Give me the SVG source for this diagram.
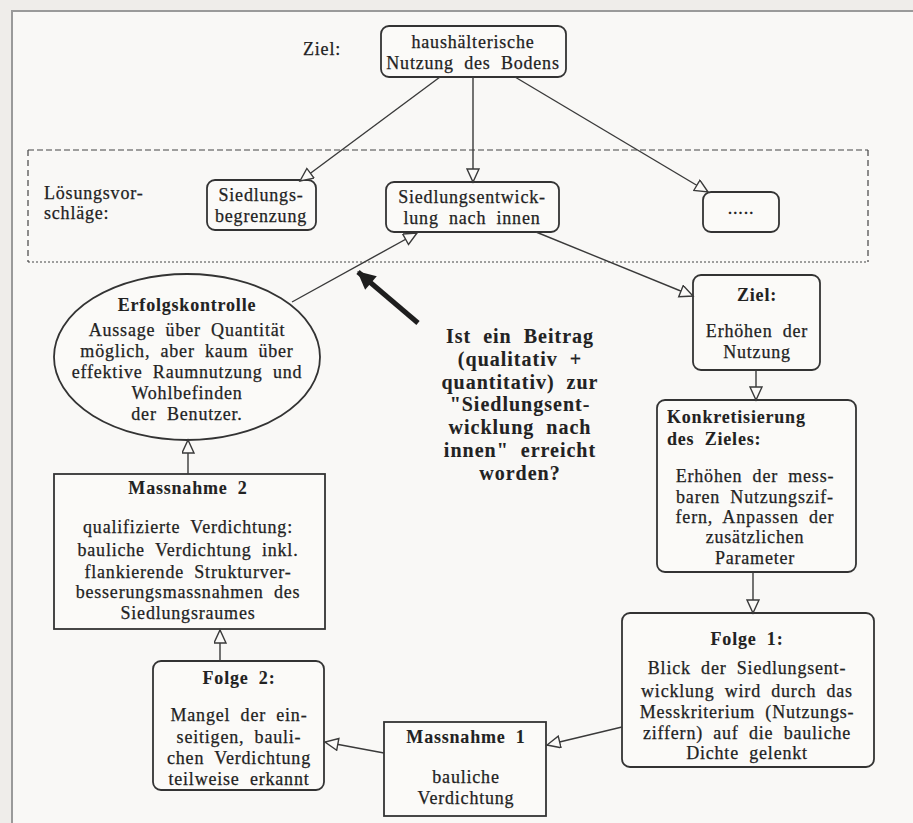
<svg xmlns="http://www.w3.org/2000/svg" width="913" height="823" viewBox="0 0 913 823">
<defs>
<style>
.t{font-family:"Liberation Serif","Times New Roman",serif;font-size:18px;fill:#222;stroke:#222;stroke-width:0.25;letter-spacing:0.8px;word-spacing:5px}
.c{text-anchor:middle}
.b{font-weight:bold;stroke-width:0.1}
.q{font-size:20px;letter-spacing:1px;word-spacing:6px}
.n{fill:#fbfaf8;stroke:#333;stroke-width:1.8}
.e{fill:none;stroke:#3a3a3a;stroke-width:1.4}
</style>
<marker id="h" markerUnits="userSpaceOnUse" markerWidth="16" markerHeight="14" refX="14" refY="6.5" orient="auto" viewBox="0 0 16 14">
<path d="M1,0.5 L14,6.5 L1,12.5 z" fill="#fbfaf8" stroke="#3a3a3a" stroke-width="1.4"/>
</marker>
<marker id="f" markerUnits="userSpaceOnUse" markerWidth="22" markerHeight="20" refX="18" refY="10" orient="auto" viewBox="0 0 22 20">
<path d="M1,1 L19,10 L1,19 z" fill="#1e1e1e"/>
</marker>
</defs>
<rect x="0" y="0" width="913" height="823" fill="#efedea"/>
<rect x="12" y="11" width="901" height="812" fill="#f9f8f6"/>
<path d="M12,823 L12,11 L913,11" fill="none" stroke="#9a9a9a" stroke-width="2"/>

<g id="loesungsbereich">
<line x1="28" y1="150" x2="868" y2="150" stroke="#444" stroke-width="1.2" stroke-dasharray="6,3"/>
<line x1="28" y1="262" x2="868" y2="262" stroke="#444" stroke-width="1.2" stroke-dasharray="2,2"/>
<line x1="28" y1="150" x2="28" y2="262" stroke="#444" stroke-width="1.2" stroke-dasharray="6,4"/>
<line x1="868" y1="150" x2="868" y2="262" stroke="#444" stroke-width="1.2" stroke-dasharray="6,4"/>
<text class="t" x="44" y="199">Lösungsvor-</text>
<text class="t" x="44" y="219">schläge:</text>
</g>

<g id="ziel-label"><text class="t" x="303" y="55">Ziel:</text></g>

<g id="n-boden">
<rect class="n" x="381" y="26" width="185" height="51" rx="8"/>
<text class="t c" x="473" y="48">haushälterische</text>
<text class="t c" x="473" y="69">Nutzung des Bodens</text>
</g>

<g id="n-begrenzung">
<rect class="n" x="207" y="180" width="109" height="50" rx="8"/>
<text class="t c" x="261" y="201">Siedlungs-</text>
<text class="t c" x="261" y="222">begrenzung</text>
</g>

<g id="n-innen">
<rect class="n" x="386" y="182" width="173" height="50" rx="8"/>
<text class="t c" x="472" y="203">Siedlungsentwick-</text>
<text class="t c" x="472" y="224">lung nach innen</text>
</g>

<g id="n-dots">
<rect class="n" x="703" y="192" width="76" height="40" rx="8"/>
<text class="t c" x="741" y="214">.....</text>
</g>

<g id="n-erfolg">
<ellipse class="n" cx="187" cy="357" rx="133" ry="83"/>
<text class="t c b" x="187" y="311">Erfolgskontrolle</text>
<text class="t c" x="187" y="336">Aussage über Quantität</text>
<text class="t c" x="187" y="357">möglich, aber kaum über</text>
<text class="t c" x="187" y="378">effektive Raumnutzung und</text>
<text class="t c" x="187" y="399">Wohlbefinden</text>
<text class="t c" x="187" y="420">der Benutzer.</text>
</g>

<g id="frage">
<text class="t q c b" x="520" y="343">Ist ein Beitrag</text>
<text class="t q c b" x="520" y="366">(qualitativ +</text>
<text class="t q c b" x="520" y="389">quantitativ) zur</text>
<text class="t q c b" x="520" y="411">"Siedlungsent-</text>
<text class="t q c b" x="520" y="434">wicklung nach</text>
<text class="t q c b" x="520" y="457">innen" erreicht</text>
<text class="t q c b" x="520" y="480">worden?</text>
</g>

<g id="n-ziel2">
<rect class="n" x="693" y="275" width="127" height="95" rx="8"/>
<text class="t c b" x="757" y="301">Ziel:</text>
<text class="t c" x="757" y="337">Erhöhen der</text>
<text class="t c" x="757" y="358">Nutzung</text>
</g>

<g id="n-konkret">
<rect class="n" x="657" y="400" width="199" height="172" rx="8"/>
<text class="t b" x="667" y="423">Konkretisierung</text>
<text class="t b" x="667" y="445">des Zieles:</text>
<text class="t c" x="755" y="482">Erhöhen der mess-</text>
<text class="t c" x="755" y="503">baren Nutzungszif-</text>
<text class="t c" x="755" y="523">fern, Anpassen der</text>
<text class="t c" x="755" y="543">zusätzlichen</text>
<text class="t c" x="755" y="564">Parameter</text>
</g>

<g id="n-folge1">
<rect class="n" x="622" y="613" width="252" height="154" rx="8"/>
<text class="t c b" x="747" y="645">Folge 1:</text>
<text class="t c" x="747" y="674">Blick der Siedlungsent-</text>
<text class="t c" x="747" y="697">wicklung wird durch das</text>
<text class="t c" x="747" y="718">Messkriterium (Nutzungs-</text>
<text class="t c" x="747" y="739">ziffern) auf die bauliche</text>
<text class="t c" x="747" y="759">Dichte gelenkt</text>
</g>

<g id="n-massnahme1">
<rect class="n" x="384" y="722" width="162" height="94"/>
<text class="t c b" x="466" y="743">Massnahme 1</text>
<text class="t c" x="466" y="783">bauliche</text>
<text class="t c" x="466" y="804">Verdichtung</text>
</g>

<g id="n-folge2">
<rect class="n" x="153" y="661" width="171" height="129" rx="8"/>
<text class="t c b" x="239" y="684">Folge 2:</text>
<text class="t c" x="239" y="721">Mangel der ein-</text>
<text class="t c" x="239" y="743">seitigen, bauli-</text>
<text class="t c" x="239" y="764">chen Verdichtung</text>
<text class="t c" x="239" y="785">teilweise erkannt</text>
</g>

<g id="n-massnahme2">
<rect class="n" x="54" y="474" width="271" height="155"/>
<text class="t c b" x="188" y="494">Massnahme 2</text>
<text class="t c" x="188" y="533">qualifizierte Verdichtung:</text>
<text class="t c" x="188" y="556">bauliche Verdichtung inkl.</text>
<text class="t c" x="188" y="578">flankierende Strukturver-</text>
<text class="t c" x="188" y="598">besserungsmassnahmen des</text>
<text class="t c" x="188" y="619">Siedlungsraumes</text>
</g>

<g id="connectors">
<line class="e" x1="440" y1="77" x2="300" y2="181" marker-end="url(#h)"/>
<line class="e" x1="473" y1="77" x2="473" y2="182" marker-end="url(#h)"/>
<line class="e" x1="515" y1="77" x2="708" y2="192" marker-end="url(#h)"/>
<line class="e" x1="292" y1="302" x2="417" y2="233" marker-end="url(#h)"/>
<line class="e" x1="536" y1="232" x2="693" y2="296" marker-end="url(#h)"/>
<line class="e" x1="756" y1="370" x2="756" y2="400" marker-end="url(#h)"/>
<line class="e" x1="753" y1="572" x2="753" y2="613" marker-end="url(#h)"/>
<line class="e" x1="622" y1="727" x2="547" y2="745" marker-end="url(#h)"/>
<line class="e" x1="384" y1="753" x2="325" y2="742" marker-end="url(#h)"/>
<line class="e" x1="220" y1="661" x2="220" y2="630" marker-end="url(#h)"/>
<line class="e" x1="188" y1="474" x2="188" y2="440" marker-end="url(#h)"/>
<line x1="418" y1="323" x2="358" y2="272" stroke="#1e1e1e" stroke-width="5" marker-end="url(#f)"/>
</g>
</svg>
